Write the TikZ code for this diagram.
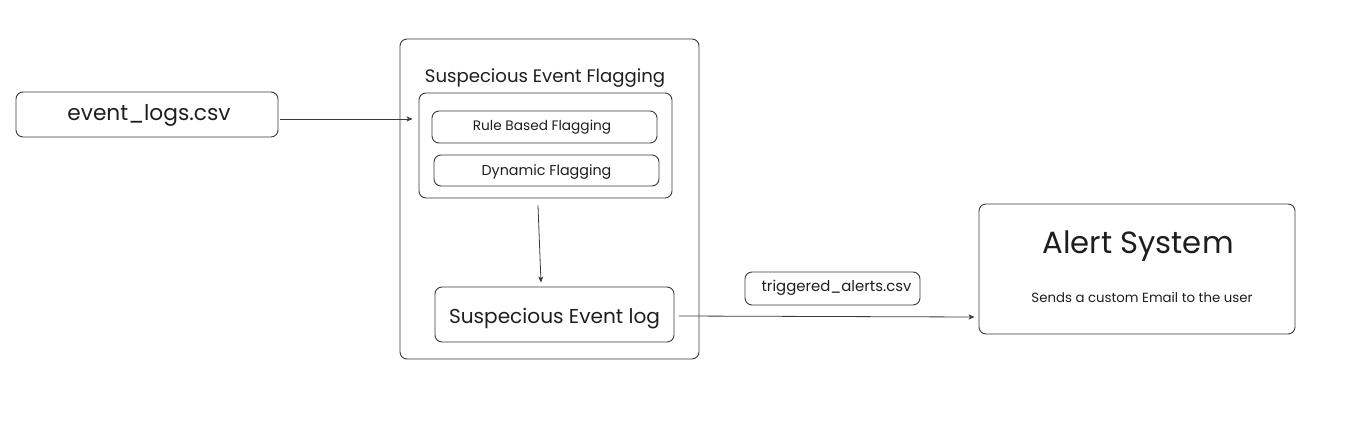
\documentclass[tikz,border=0pt]{standalone}
\usepackage{fontspec}
\setmainfont{Poppins}
\usetikzlibrary{arrows.meta}
\definecolor{ln}{HTML}{3A3A3A}
\definecolor{tx}{HTML}{1E1E1E}
\tikzset{
  box/.style={draw=ln, line width=0.9pt, rounded corners=7pt, inner sep=0pt, text=tx, text depth=0pt},
  lbl/.style={text=tx, inner sep=0pt, anchor=base},
  conn/.style={draw=ln, line width=0.8pt, -{Stealth[length=6pt,width=5pt,inset=1.5pt]}},
}
\begin{document}
\begin{tikzpicture}[x=1pt,y=-1pt]
\useasboundingbox (0,0) rectangle (1353,436);
% event logs
\node[box, minimum width=262pt, minimum height=45pt, text height=12.4pt, font=\fontsize{21.7}{24}\selectfont] (ev) at (147,114.5) {\hspace*{4pt}event\_logs.csv};
% outer container
\node[box, minimum width=299pt, minimum height=320pt] (outer) at (549.5,199) {};
\node[lbl, font=\fontsize{18.1}{21}\selectfont] (title) at (545,82) {Suspecious Event Flagging};
% inner group
\node[box, minimum width=253pt, minimum height=105pt] (grp) at (545.5,145.5) {};
\node[box, minimum width=225pt, minimum height=32pt, text height=8pt, font=\fontsize{13.7}{16}\selectfont] (rule) at (544.5,127) {Rule Based Flagging\hspace*{5pt}};
\node[box, minimum width=225pt, minimum height=31pt, text height=10.4pt, font=\fontsize{14.3}{16}\selectfont] (dyn) at (546.5,170.5) {Dynamic Flagging};
% suspicious event log
\node[box, minimum width=239pt, minimum height=55pt, text height=17pt, font=\fontsize{20.1}{23}\selectfont] (sel) at (554.5,314.5) {Suspecious Event log};
% triggered alerts
\node[box, minimum width=175pt, minimum height=33pt, text height=6pt, font=\fontsize{14.9}{17}\selectfont] (trig) at (832.5,288.5) {\hspace*{8pt}triggered\_alerts.csv};
% alert system
\node[box, minimum width=316pt, minimum height=130pt] (alert) at (1137,269) {};
\node[lbl, font=\fontsize{30.7}{34}\selectfont] (atitle) at (1138,253) {Alert System};
\node[lbl, font=\fontsize{13.3}{15}\selectfont] (asub) at (1142,302) {Sends a custom Email to the user};
% connectors
\draw[conn] ([xshift=2pt,yshift=-4.5pt]ev.east) -- ([xshift=-6pt,yshift=26.5pt]grp.west);
\draw[conn] ([xshift=-7.5pt,yshift=-7pt]grp.south) -- ([xshift=-13.5pt,yshift=4pt]sel.north);
\draw[conn] ([xshift=4.5pt,yshift=-1.5pt]sel.east) -- ([xshift=-4pt,yshift=-48pt]alert.west);
\end{tikzpicture}
\end{document}
